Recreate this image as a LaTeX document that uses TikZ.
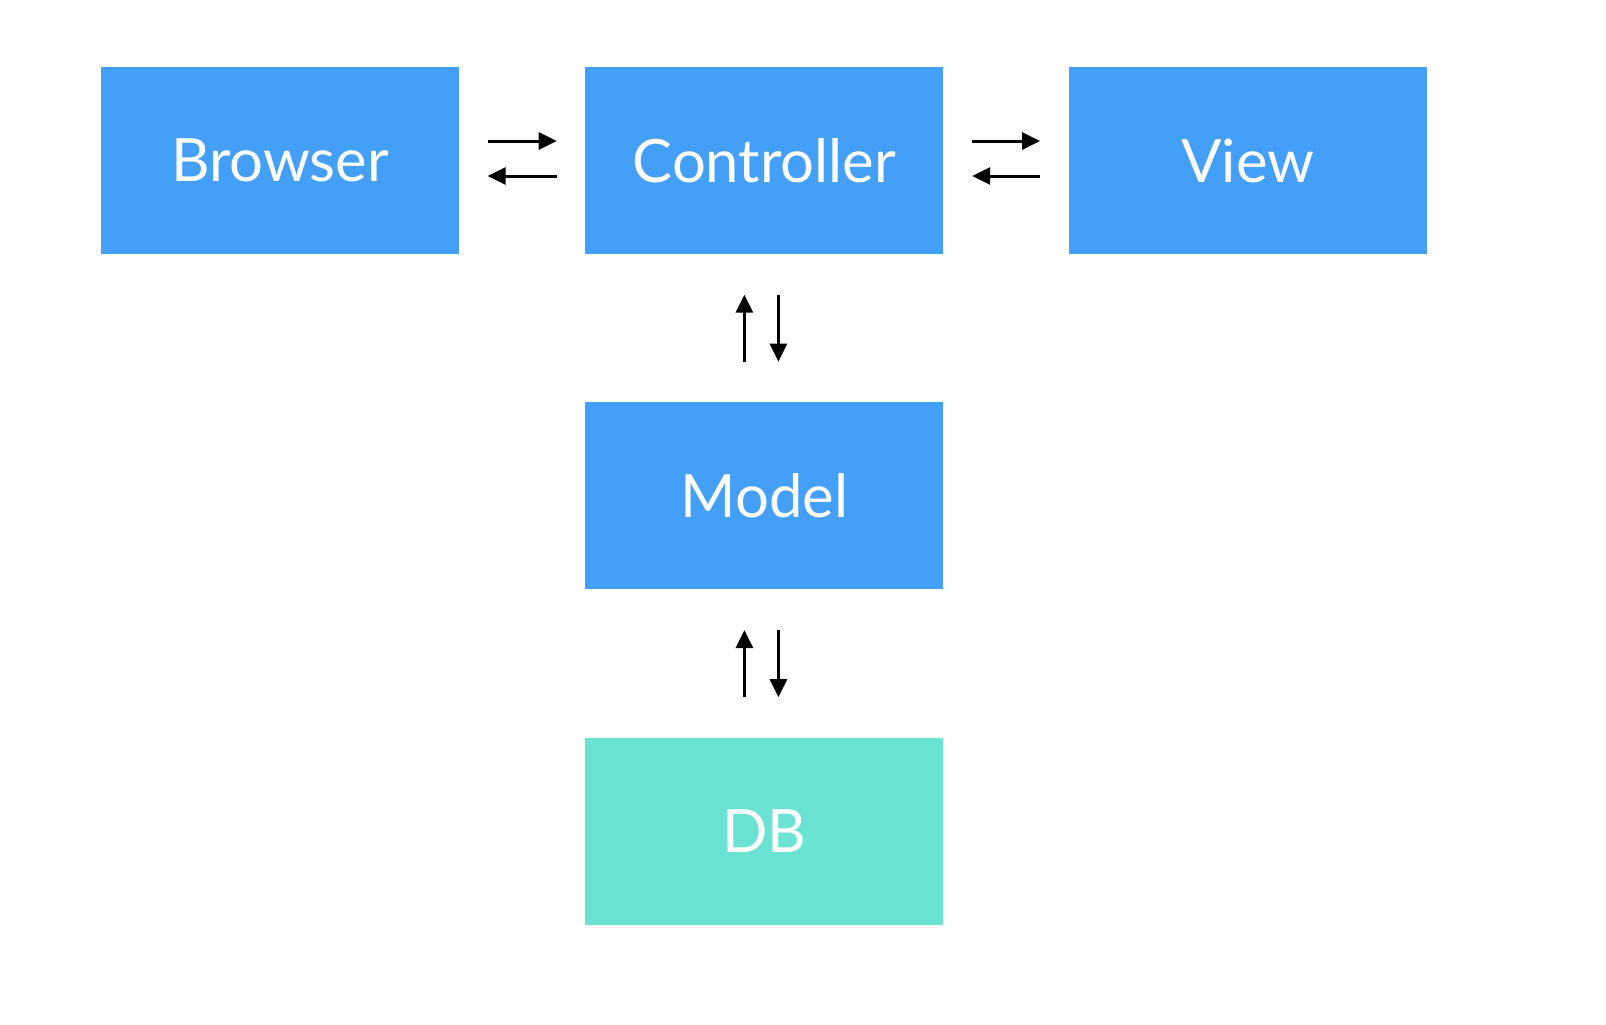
\documentclass[tikz,border=0pt]{standalone}
\usepackage{fontspec}
\setmainfont{Lato}
\usetikzlibrary{positioning,arrows.meta}
\definecolor{boxblue}{HTML}{44A0F7}
\definecolor{boxteal}{HTML}{6BE3D2}

\begin{document}
\begin{tikzpicture}[
    box/.style={rectangle, fill=boxblue, text=white, minimum width=3.58cm, minimum height=1.87cm, font=\fontsize{17}{20}\selectfont},
    arrow/.style={-{Triangle[length=0.18cm,width=0.17cm]}, line width=0.85pt, shorten <=0.28cm, shorten >=0.28cm},
    varrow/.style={arrow, shorten <=0.4cm, shorten >=0.4cm}
]
    \useasboundingbox (0,0) rectangle (16.06,-10.24);
    \node[box] (browser) at (2.80,-1.605) {Browser};
    \node[box, right=1.25cm of browser] (controller) {Controller};
    \node[box, right=1.24cm of controller] (view) {View};
    \node[box, below=1.47cm of controller] (model) {Model};
    \node[box, below=1.47cm of model, fill=boxteal] (db) {DB};

    \draw[arrow] ([yshift=0.195cm]browser.east) -- ([yshift=0.195cm]controller.west);
    \draw[arrow] ([yshift=-0.155cm]controller.west) -- ([yshift=-0.155cm]browser.east);
    \draw[arrow] ([yshift=0.195cm]controller.east) -- ([yshift=0.195cm]view.west);
    \draw[arrow] ([yshift=-0.155cm]view.west) -- ([yshift=-0.155cm]controller.east);

    \draw[varrow] ([xshift=-0.2cm]model.north) -- ([xshift=-0.2cm]controller.south);
    \draw[varrow] ([xshift=0.14cm]controller.south) -- ([xshift=0.14cm]model.north);
    \draw[varrow] ([xshift=-0.2cm]db.north) -- ([xshift=-0.2cm]model.south);
    \draw[varrow] ([xshift=0.14cm]model.south) -- ([xshift=0.14cm]db.north);
\end{tikzpicture}
\end{document}
